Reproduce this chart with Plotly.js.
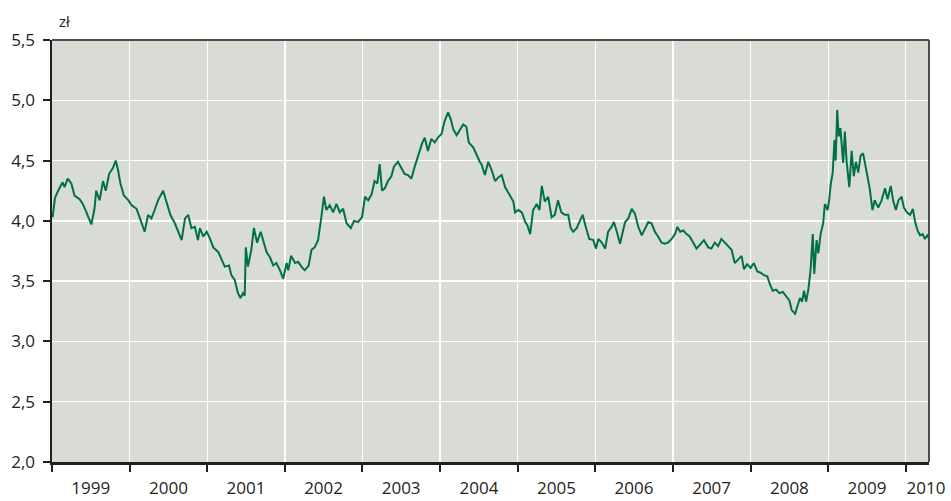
<!DOCTYPE html>
<html>
<head>
<meta charset="utf-8">
<script src="https://cdn.plot.ly/plotly-3.0.1.min.js"></script>
<style>html,body{margin:0;padding:0;background:#fff;}#chart{width:951px;height:501px;}</style>
</head>
<body>
<div id="chart"></div>
<script>
// EUR/PLN exchange rate (zł)
const dates = [
'1999-01-04','1999-01-08','1999-01-15','1999-01-30','1999-02-20','1999-03-01','1999-03-16','1999-04-02','1999-04-17','1999-05-11','1999-05-26','1999-06-12','1999-07-05','1999-07-20','1999-07-28','1999-08-13','1999-08-29','1999-09-11','1999-09-27','1999-10-15','1999-10-28','1999-11-08','1999-11-19','1999-12-05','1999-12-27',
'2000-01-10','2000-02-03','2000-02-19','2000-03-12','2000-03-28','2000-04-13','2000-04-28','2000-05-14','2000-06-07','2000-06-22','2000-07-11','2000-08-01','2000-08-16','2000-09-02','2000-09-18','2000-10-03','2000-10-18','2000-11-03','2000-11-18','2000-11-27','2000-12-13','2000-12-29',
'2001-01-14','2001-01-29','2001-02-22','2001-03-08','2001-03-24','2001-04-13','2001-04-24','2001-05-10','2001-05-25','2001-06-06','2001-06-18','2001-06-26','2001-07-01','2001-07-11','2001-07-27','2001-08-08','2001-08-23','2001-09-09','2001-09-21','2001-10-07','2001-10-22','2001-11-07','2001-11-22','2001-12-09','2001-12-24',
'2002-01-09','2002-01-17','2002-01-30','2002-02-18','2002-03-04','2002-03-20','2002-04-04','2002-04-23','2002-05-06','2002-05-21','2002-06-06','2002-06-19','2002-07-04','2002-07-15','2002-07-31','2002-08-16','2002-09-01','2002-09-16','2002-10-02','2002-10-18','2002-11-07','2002-11-22','2002-12-11','2002-12-30',
'2003-01-13','2003-01-28','2003-02-13','2003-02-27','2003-03-12','2003-03-23','2003-04-03','2003-04-16','2003-05-01','2003-05-17','2003-05-29','2003-06-17','2003-07-03','2003-07-18','2003-08-03','2003-08-19','2003-09-04','2003-09-19','2003-10-08','2003-10-21','2003-11-05','2003-11-21','2003-12-07','2003-12-22',
'2004-01-08','2004-01-23','2004-02-08','2004-02-21','2004-03-03','2004-03-19','2004-04-03','2004-04-19','2004-05-04','2004-05-15','2004-06-05','2004-06-21','2004-07-06','2004-07-14','2004-07-30','2004-08-15','2004-08-31','2004-09-16','2004-10-01','2004-10-17','2004-11-02','2004-11-25','2004-12-11','2004-12-19',
'2005-01-04','2005-01-20','2005-02-05','2005-02-16','2005-02-28','2005-03-14','2005-03-31','2005-04-13','2005-04-24','2005-05-08','2005-05-24','2005-06-09','2005-06-24','2005-07-09','2005-07-25','2005-08-10','2005-08-26','2005-09-07','2005-09-19','2005-10-05','2005-10-17','2005-11-02','2005-11-17','2005-12-03','2005-12-22',
'2006-01-04','2006-01-15','2006-01-31','2006-02-16','2006-03-02','2006-03-18','2006-03-29','2006-04-12','2006-04-27','2006-05-10','2006-05-21','2006-06-05','2006-06-21','2006-07-06','2006-07-22','2006-08-07','2006-08-22','2006-09-07','2006-09-22','2006-10-08','2006-10-23','2006-11-08','2006-11-23','2006-12-09','2006-12-26',
'2007-01-11','2007-01-22','2007-02-04','2007-02-19','2007-03-06','2007-03-21','2007-04-06','2007-04-22','2007-05-07','2007-05-27','2007-06-16','2007-07-01','2007-07-17','2007-08-02','2007-08-17','2007-09-02','2007-09-18','2007-10-04','2007-10-19','2007-11-04','2007-11-20','2007-12-01','2007-12-16',
'2008-01-02','2008-01-17','2008-02-02','2008-02-18','2008-03-04','2008-03-20','2008-04-02','2008-04-15','2008-04-30','2008-05-16','2008-06-01','2008-06-16','2008-07-02','2008-07-13','2008-07-29','2008-08-10','2008-08-21','2008-08-31','2008-09-09','2008-09-19','2008-09-30','2008-10-10','2008-10-20','2008-10-27','2008-11-07','2008-11-15','2008-11-26','2008-12-08','2008-12-16','2008-12-29',
'2009-01-05','2009-01-13','2009-01-22','2009-01-30','2009-02-05','2009-02-12','2009-02-19','2009-02-27','2009-03-05','2009-03-12','2009-03-20','2009-03-28','2009-04-10','2009-04-21','2009-05-01','2009-05-11','2009-05-22','2009-06-02','2009-06-14','2009-06-25','2009-07-05','2009-07-15','2009-07-28','2009-08-08','2009-08-24','2009-09-09','2009-09-25','2009-10-07','2009-10-22','2009-11-02','2009-11-15','2009-11-27','2009-12-12','2009-12-23',
'2010-01-06','2010-01-21','2010-02-03','2010-02-14','2010-02-25','2010-03-09','2010-03-21','2010-04-01','2010-04-12','2010-04-19'
];
const rates = [
4.03,4.10,4.19,4.25,4.32,4.28,4.35,4.31,4.21,4.18,4.14,4.07,3.97,4.10,4.25,4.17,4.33,4.25,4.39,4.44,4.50,4.42,4.31,4.21,4.17,
4.13,4.10,4.02,3.91,4.05,4.02,4.09,4.17,4.25,4.16,4.05,3.98,3.92,3.84,4.02,4.05,3.94,3.95,3.84,3.94,3.87,3.91,
3.85,3.78,3.74,3.69,3.62,3.63,3.55,3.51,3.40,3.36,3.40,3.38,3.78,3.62,3.76,3.94,3.82,3.91,3.84,3.74,3.70,3.63,3.65,3.59,3.52,
3.65,3.59,3.71,3.65,3.66,3.62,3.59,3.63,3.76,3.78,3.84,4.00,4.20,4.09,4.13,4.07,4.14,4.07,4.10,3.98,3.94,4.00,3.99,4.03,
4.20,4.17,4.22,4.33,4.31,4.47,4.25,4.27,4.33,4.37,4.45,4.49,4.44,4.39,4.38,4.35,4.45,4.54,4.64,4.69,4.58,4.68,4.65,4.69,
4.72,4.83,4.90,4.84,4.76,4.71,4.75,4.80,4.78,4.65,4.61,4.54,4.49,4.47,4.38,4.49,4.42,4.33,4.36,4.38,4.28,4.21,4.16,4.07,
4.09,4.07,3.99,3.96,3.89,4.09,4.14,4.09,4.29,4.16,4.20,4.03,4.05,4.17,4.07,4.05,4.05,3.94,3.91,3.94,3.99,4.05,3.95,3.85,3.84,
3.77,3.85,3.82,3.77,3.91,3.95,3.99,3.91,3.81,3.91,3.99,4.02,4.10,4.06,3.95,3.88,3.94,3.99,3.98,3.91,3.87,3.82,3.81,3.82,3.85,
3.89,3.95,3.91,3.92,3.89,3.87,3.82,3.77,3.80,3.84,3.78,3.77,3.82,3.79,3.85,3.82,3.79,3.76,3.65,3.68,3.71,3.60,3.64,
3.61,3.65,3.58,3.57,3.55,3.54,3.47,3.42,3.43,3.40,3.41,3.38,3.34,3.26,3.23,3.30,3.36,3.33,3.42,3.33,3.44,3.60,3.89,3.56,3.84,3.73,3.89,3.98,4.14,4.09,
4.17,4.31,4.40,4.67,4.50,4.92,4.70,4.77,4.62,4.48,4.74,4.50,4.28,4.58,4.37,4.49,4.40,4.54,4.56,4.45,4.36,4.27,4.09,4.17,4.11,4.17,4.27,4.18,4.29,4.17,4.09,4.17,4.20,4.11,
4.07,4.05,4.10,3.99,3.92,3.88,3.89,3.85,3.88,3.86
];
const yearLabels = ['1999','2000','2001','2002','2003','2004','2005','2006','2007','2008','2009','2010'];
const yearLabelDates = ['1999-07-02','2000-07-02','2001-07-02','2002-07-02','2003-07-02','2004-07-02','2005-07-02','2006-07-02','2007-07-02','2008-07-02','2009-07-02','2010-04-06'];
const yTicks = [2.0,2.5,3.0,3.5,4.0,4.5,5.0,5.5];
const unitLabel = 'zł';

const ink = '#231f20';
const trace = {
  x: dates, y: rates, type: 'scatter', mode: 'lines',
  line: {color: '#00704a', width: 2},
  hoverinfo: 'x+y'
};
const layout = {
  width: 951, height: 501,
  margin: {l: 52, r: 22, t: 40, b: 39},
  paper_bgcolor: '#ffffff',
  plot_bgcolor: '#d8dcd5',
  separators: ', ',
  showlegend: false,
  font: {family: '"Open Sans", "Noto Sans", sans-serif', size: 17, color: ink},
  xaxis: {
    type: 'date',
    range: ['1999-01-01', '2010-04-20'],
    tickmode: 'array', tickvals: yearLabelDates, ticktext: yearLabels,
    ticks: '', showgrid: false,
    ticklabelstandoff: 9,
    showline: true, linecolor: ink, linewidth: 2.5,
    minor: {dtick: 'M12', tick0: '1999-01-01', showgrid: true, gridcolor: '#ffffff', gridwidth: 1.3,
            ticks: 'outside', ticklen: 7, tickwidth: 2, tickcolor: ink},
    zeroline: false, fixedrange: true
  },
  yaxis: {
    range: [2.0, 5.5],
    tickmode: 'array', tickvals: yTicks,
    tickformat: '.1f',
    ticks: 'outside', ticklen: 7, tickwidth: 2, tickcolor: ink,
    ticklabelstandoff: 4,
    showgrid: true, gridcolor: '#ffffff', gridwidth: 1.3,
    showline: true, linecolor: ink, linewidth: 2.5,
    zeroline: false, fixedrange: true
  },
  shapes: [
    {type: 'line', xref: 'x domain', yref: 'y domain', x0: 0, x1: 1, y0: 1, y1: 1, line: {color: '#4d4d4d', width: 2}},
    {type: 'line', xref: 'x domain', yref: 'y domain', x0: 1, x1: 1, y0: 0, y1: 1, line: {color: '#4d4d4d', width: 2}}
  ],
  annotations: [{
    text: unitLabel, xref: 'paper', yref: 'paper', x: 0.0137, y: 1.045,
    xanchor: 'center', yanchor: 'middle', showarrow: false,
    font: {size: 15, color: ink}
  }]
};
Plotly.newPlot('chart', [trace], layout, {displayModeBar: false, staticPlot: true});
</script>
</body>
</html>
